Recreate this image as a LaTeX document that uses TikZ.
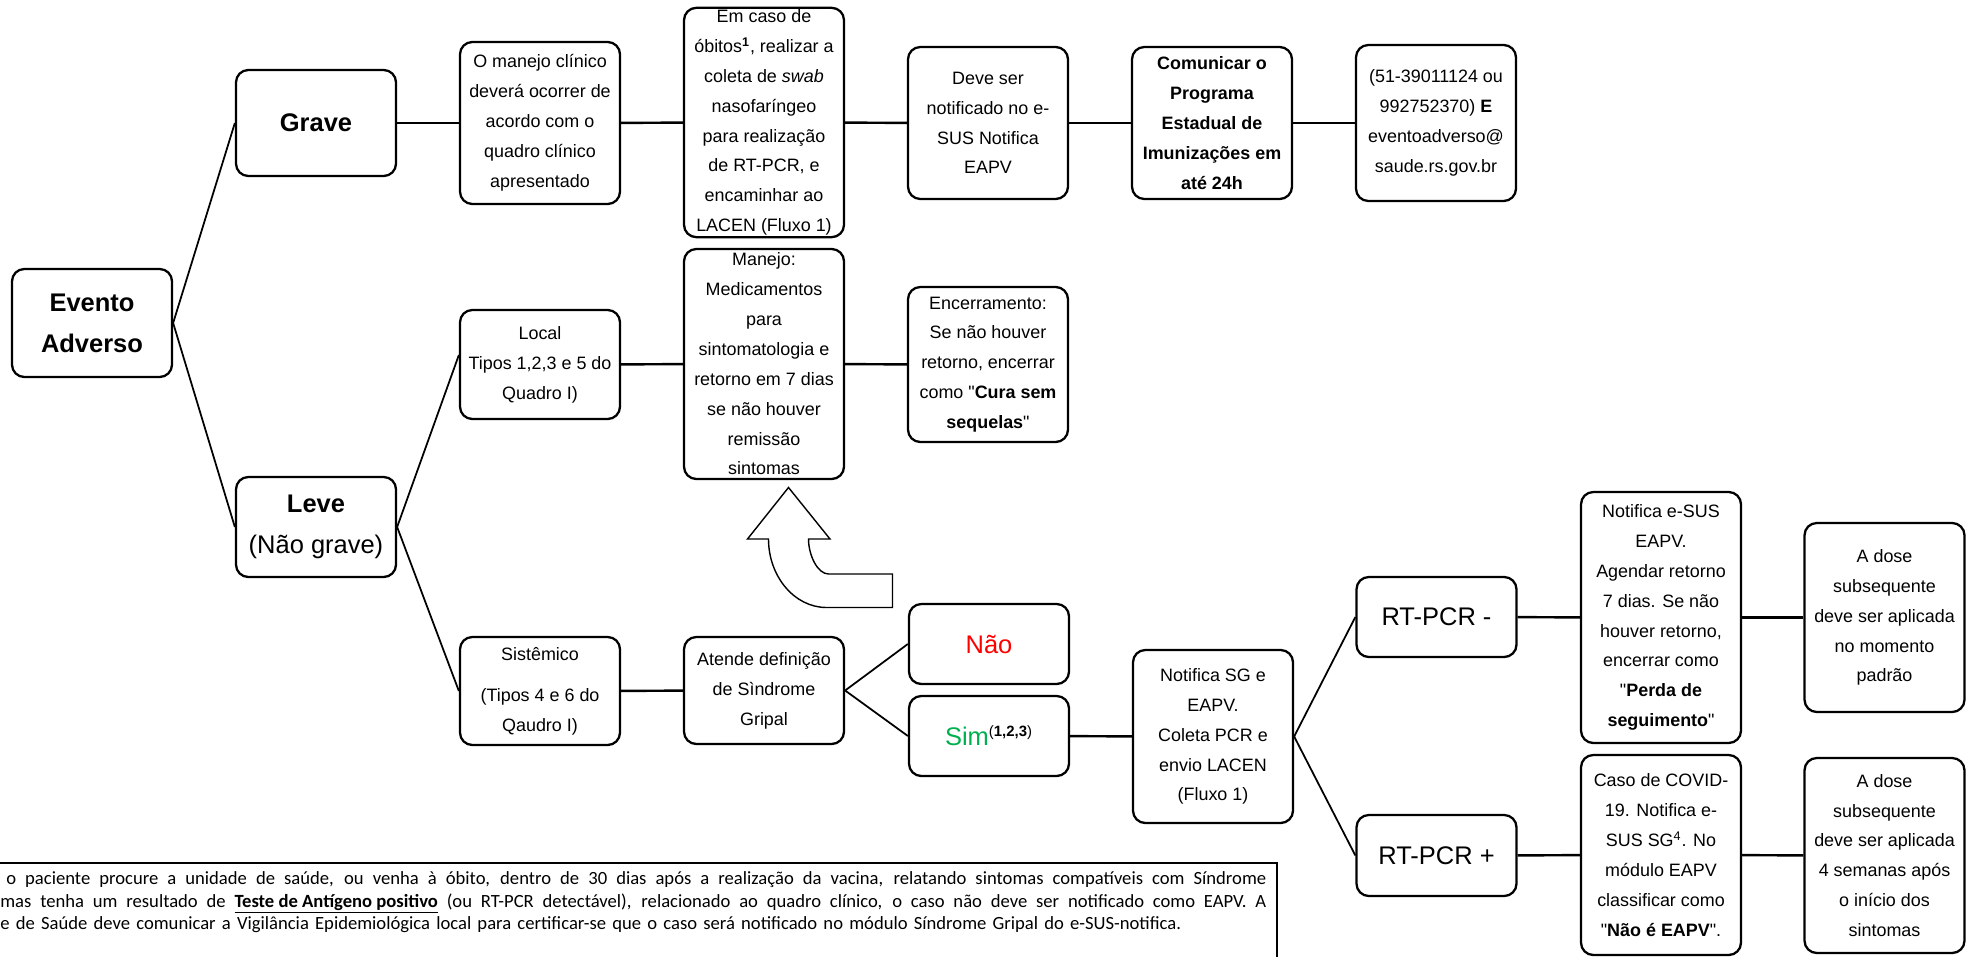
\documentclass[tikz,border=0pt]{standalone}
\usepackage{fontspec}
\setmainfont{Liberation Sans}[Ligatures=TeXOff]
\newfontfamily\notefont{Carlito}
\usepackage{tikz}
\usetikzlibrary{positioning,calc}

\newcommand{\boxfont}{\fontsize{10.2}{17}\selectfont}
\newcommand{\bigfont}{\fontsize{14.5}{23.3}\selectfont}
\newcommand{\fullline}[2]{\makebox[#1][s]{\spaceskip=0.226em plus 1em\relax #2}}
\definecolor{naored}{RGB}{255,0,0}
\definecolor{simgreen}{RGB}{0,176,80}

\begin{document}
\begin{tikzpicture}[
    block/.style={draw, line width=1.3pt, rounded corners=7pt, minimum width=3.2cm, align=center, inner sep=1pt, font=\boxfont},
    link/.style={line width=1.4pt},
    branch/.style={line width=1pt},
  ]
  \useasboundingbox (0,0) rectangle (39.46,-19.14);

  % raiz e gravidade
  \node[block, minimum height=2.16cm, font=\bigfont\bfseries] (EV) at (1.84,-6.46) {Evento\\Adverso};
  \node[block, minimum height=2.12cm, font=\bigfont\bfseries] (GR) at (6.32,-2.46) {Grave};
  \node[block, minimum height=2.0cm, font=\bigfont] (LV) at (6.32,-10.54) {\textbf{Leve}\\(Não grave)};

  % linha do grave
  \node[block, minimum height=3.24cm] (MC) at (10.80,-2.46) {O manejo clínico\\deverá ocorrer de\\acordo com o\\quadro clínico\\apresentado};
  \node[block, minimum height=4.58cm] (OB) at (15.28,-2.45) {Em caso de\\óbitos\textsuperscript{\textbf{1}}, realizar a\\coleta de \textit{swab}\\nasofaríngeo\\para realização\\de RT-PCR, e\\encaminhar ao\\LACEN (Fluxo 1)};
  \node[block, minimum height=3.04cm] (NT) at (19.76,-2.46) {Deve ser\\notificado no e-\\SUS Notifica\\EAPV};
  \node[block, minimum height=3.04cm, font=\boxfont\bfseries] (PE) at (24.24,-2.46) {Comunicar o\\Programa\\Estadual de\\Imunizações em\\até 24h};
  \node[block, minimum height=3.12cm] (CT) at (28.72,-2.46) {(51-39011124 ou\\992752370) \textbf{E}\\eventoadverso@\\saude.rs.gov.br};

  % leve local
  \node[block, minimum height=2.18cm] (LO) at (10.80,-7.29) {Local\\Tipos 1,2,3 e 5 do\\Quadro I)};
  \node[block, minimum height=4.6cm] (MJ) at (15.28,-7.28) {Manejo:\\Medicamentos\\para\\sintomatologia e\\retorno em 7 dias\\se não houver\\remissão\\sintomas};
  \node[block, minimum height=3.1cm] (EN) at (19.76,-7.29) {Encerramento:\\Se não houver\\retorno, encerrar\\como "\textbf{Cura sem}\\\textbf{sequelas}"};

  % leve sistemico
  \node[block, minimum height=2.16cm] (SI) at (10.80,-13.82) {Sistêmico\\[6.3pt](Tipos 4 e 6 do\\Qaudro I)};
  \node[block, minimum height=2.14cm] (SD) at (15.28,-13.81) {Atende definição\\de Sìndrome\\Gripal};
  \node[block, minimum height=1.6cm, font=\bigfont, text=naored] (NA) at (19.78,-12.88) {Não};
  \node[block, minimum height=1.6cm, font=\bigfont] (SM) at (19.78,-14.72) {\textcolor{simgreen}{Sim}\textsuperscript{\fontsize{8.5}{9}\selectfont(\textbf{1,2,3})}};
  \node[block, minimum height=3.46cm] (NS) at (24.26,-14.73) {Notifica SG e\\EAPV.\\Coleta PCR e\\envio LACEN\\(Fluxo 1)};

  % resultado do RT-PCR
  \node[block, minimum height=1.6cm, font=\bigfont] (RN) at (28.73,-12.34) {RT-PCR -};
  \node[block, minimum height=1.62cm, font=\bigfont] (RP) at (28.73,-17.11) {RT-PCR +};
  \node[block, minimum height=5.02cm] (NE) at (33.22,-12.35) {Notifica e-SUS\\EAPV.\\Agendar retorno\\7 dias. Se não\\houver retorno,\\encerrar como\\"\textbf{Perda de}\\\textbf{seguimento}"};
  \node[block, minimum height=4.0cm] (CV) at (33.22,-17.10) {Caso de COVID-\\19. Notifica e-\\SUS SG\textsuperscript{4}. No\\módulo EAPV\\classificar como\\"\textbf{Não é EAPV}".};
  \node[block, minimum height=3.78cm] (DP) at (37.69,-12.35) {A dose\\subsequente\\deve ser aplicada\\no momento\\padrão};
  \node[block, minimum height=3.9cm] (DS) at (37.69,-17.11) {A dose\\subsequente\\deve ser aplicada\\4 semanas após\\o início dos\\sintomas};

  % ligacoes
  \draw[branch] (EV.east) -- (GR.west);
  \draw[branch] (EV.east) -- (LV.west);
  \draw[branch] (LV.east) -- ([yshift=0.19cm]LO.west);
  \draw[branch] (LV.east) -- (SI.west);
  \draw[branch] (SD.east) -- (NA.west);
  \draw[branch] (SD.east) -- (SM.west);
  \draw[branch] (NS.east) -- (RN.west);
  \draw[branch] (NS.east) -- (RP.west);
  \draw[link] (GR) -- (MC);
  \draw[link] (MC) -- (OB);
  \draw[link] (OB) -- (NT);
  \draw[link] (NT) -- (PE);
  \draw[link] (PE) -- (CT);
  \draw[link] (LO) -- (MJ);
  \draw[link] (MJ) -- (EN);
  \draw[link] (SI) -- (SD);
  \draw[link] (SM) -- (NS);
  \draw[link] (RN) -- (NE);
  \draw[link] (NE) -- (DP);
  \draw[link] (RP) -- (CV);
  \draw[link] (CV) -- (DS);

  % seta curva de volta ao manejo
  \draw[line width=0.8pt, fill=white] (15.77,-9.75) -- (16.60,-10.78) -- (16.17,-10.78)
    .. controls (16.17,-11.10) and (16.35,-11.48) .. (16.57,-11.48) -- (17.85,-11.48) -- (17.85,-12.15) -- (16.53,-12.15)
    .. controls (15.89,-12.15) and (15.37,-11.53) .. (15.37,-10.78) -- (14.95,-10.78) -- cycle;

  % nota de rodape
  \draw[line width=1.1pt] (0,-17.26) -- (25.54,-17.26) -- (25.54,-19.14);
  \node[anchor=base west, inner sep=0, text width=25.42cm, align=left, font=\notefont\fontsize{10.6}{12.9}\selectfont] (NOTA) at (0,-17.69) {\hspace*{0.12cm}\fullline{25.2cm}{o paciente procure a unidade de saúde, ou venha à óbito, dentro de 30 dias após a realização da vacina, relatando sintomas compatíveis com Síndrome}\\
    \fullline{25.32cm}{mas tenha um resultado de \underline{\textbf{Teste de Antígeno positivo}} (ou RT-PCR detectável), relacionado ao quadro clínico, o caso não deve ser notificado como EAPV. A}\\
    e de Saúde deve comunicar a Vigilância Epidemiológica local para certificar-se que o caso será notificado no módulo Síndrome Gripal do e-SUS-notifica.};
\end{tikzpicture}
\end{document}
